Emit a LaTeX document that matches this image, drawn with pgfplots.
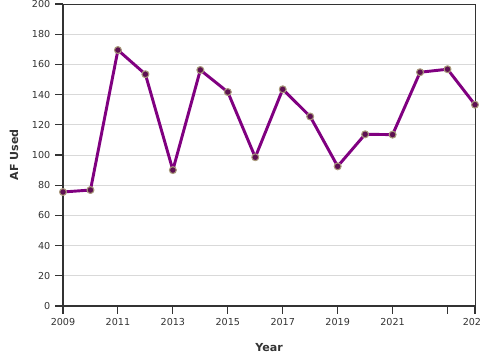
\documentclass[border=0pt]{standalone}
\usepackage{fontspec}
\setmainfont{DejaVu Sans}
\usepackage{pgfplots}
\pgfplotsset{compat=1.18}
\definecolor{axcol}{HTML}{333333}
\definecolor{gridcol}{HTML}{D9D9D9}
\definecolor{linecol}{HTML}{800080}
\definecolor{markfill}{HTML}{5E1052}
\definecolor{markedge}{HTML}{A8997A}
\begin{document}
\begin{tikzpicture}
\begin{axis}[
  name=ax,
  scale only axis,
  width=309pt, height=226.5pt,
  xmin=2009, xmax=2024, ymin=0, ymax=200,
  xtick={2009,2011,2013,2015,2017,2019,2021,2023,2024},
  xticklabels={2009,2011,2013,2015,2017,2019,2021,,2024},
  ytick={0,20,...,200},
  /pgf/number format/1000 sep={},
  /pgf/number format/assume math mode=true,
  tick label style={font=\fontsize{7.2}{8}\selectfont, text=axcol},
  tick align=outside,
  major tick length=6pt,
  tick style={axcol, line width=0.8pt},
  xtick pos=bottom, ytick pos=left,
  ymajorgrids,
  grid style={gridcol, line width=0.6pt},
  axis line style={axcol, line width=0.6pt},
  xlabel={\textbf{Year}},
  ylabel={\textbf{AF Used}},
  label style={font=\fontsize{8.3}{10}\selectfont, text=axcol},
  xlabel style={at={(axis description cs:0.5,-0.136)}, anchor=center},
  ylabel style={at={(axis description cs:-0.119,0.5)}, anchor=center, rotate=0},
  clip=false,
]
\addplot[color=linecol, line width=2.2pt, line join=round,
  mark=*, mark size=2.6pt,
  mark options={fill=markfill, draw=markedge, line width=0.8pt}]
  coordinates {
  (2009,75.5) (2010,76.8) (2011,169.5) (2012,153.5) (2013,90) (2014,156.3)
  (2015,141.7) (2016,98.5) (2017,143.5) (2018,125.5) (2019,92.5) (2020,113.7)
  (2021,113.5) (2022,154.8) (2023,156.8) (2024,133.3)
  };
\draw[axcol, line width=1.6pt] (rel axis cs:0,1) -- (rel axis cs:0,0) -- (rel axis cs:1,0);
\end{axis}
\pgfresetboundingbox
\path ([xshift=-47.25pt,yshift=-40.5pt]ax.south west) rectangle ([xshift=3.75pt,yshift=3pt]ax.north east);
\end{tikzpicture}
\end{document}
